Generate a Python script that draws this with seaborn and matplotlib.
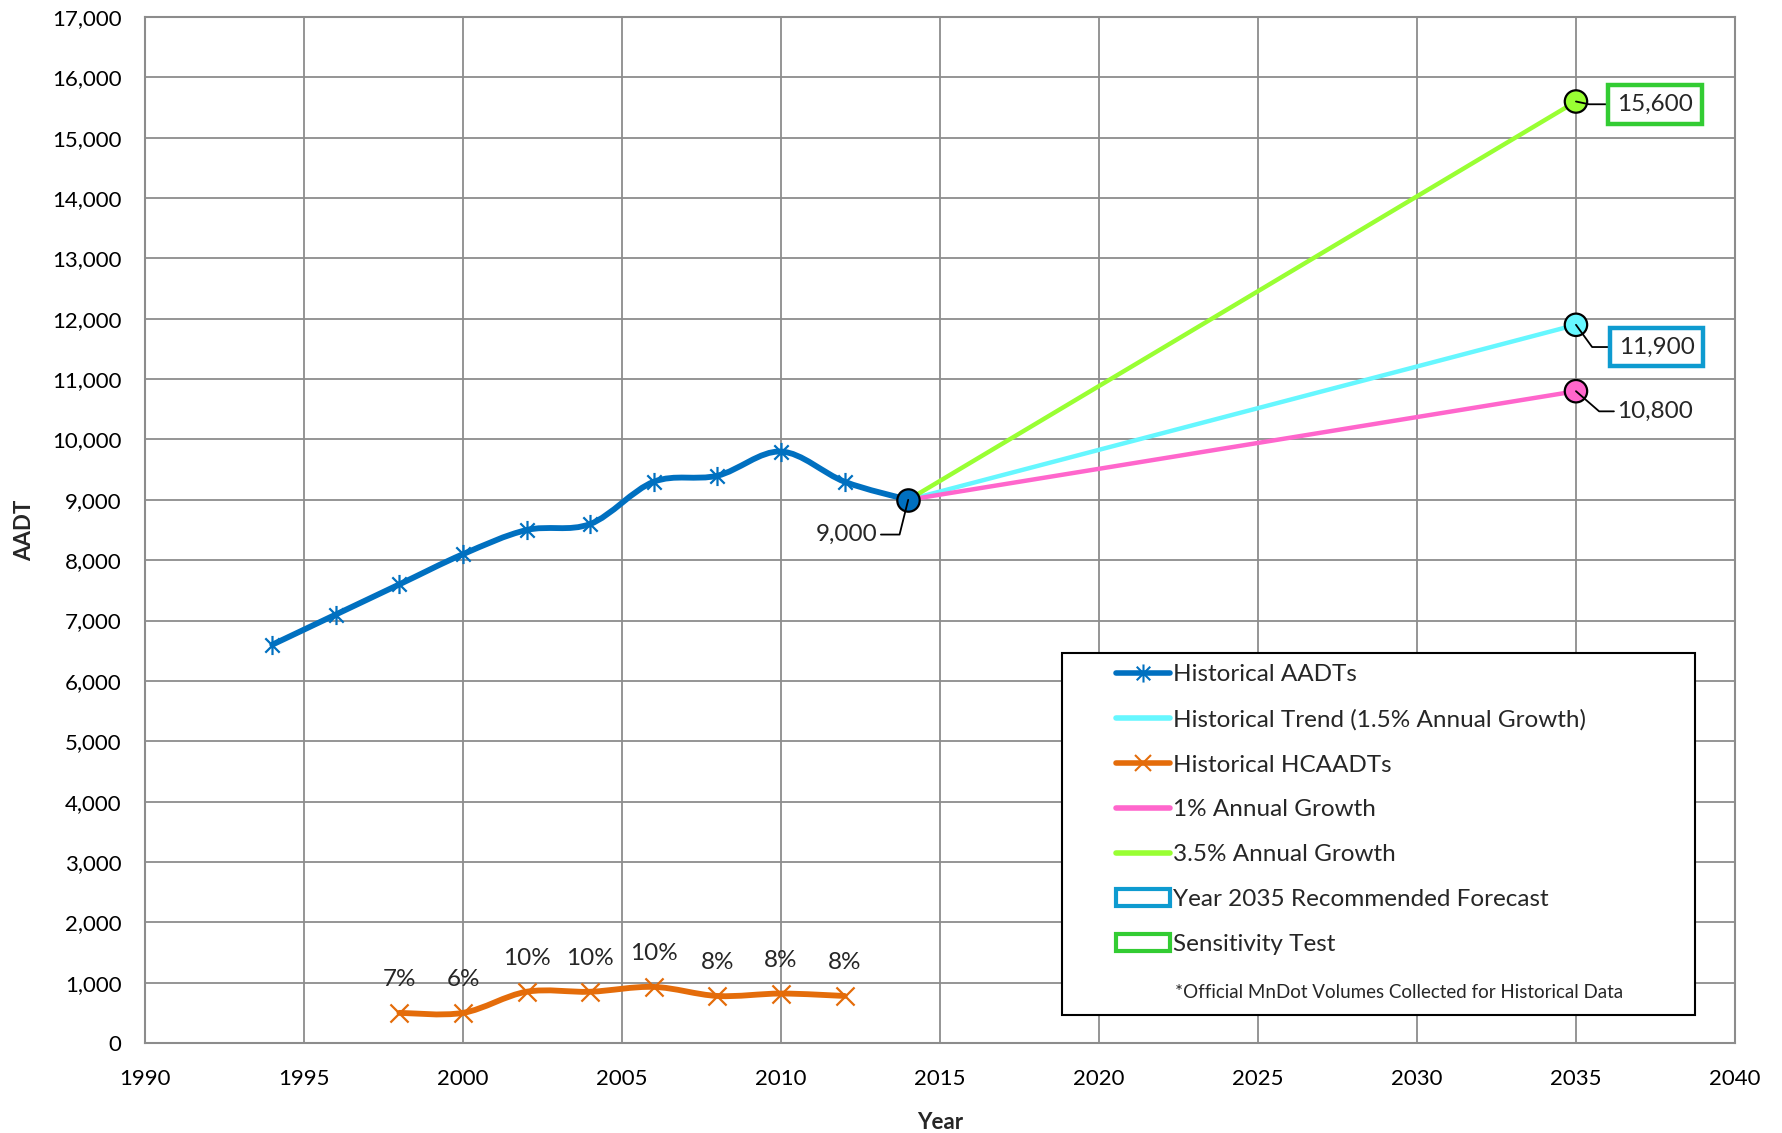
import numpy as np
import pandas as pd
import matplotlib
matplotlib.use("Agg")
import matplotlib.pyplot as plt
import seaborn as sns
from matplotlib.path import Path
from matplotlib.patches import PathPatch, Rectangle, Patch
from matplotlib.lines import Line2D
from matplotlib.ticker import FuncFormatter, MultipleLocator

# ---- data -------------------------------------------------------------
hist_years = [1994, 1996, 1998, 2000, 2002, 2004, 2006, 2008, 2010, 2012, 2014]
hist_aadt = [6600, 7100, 7600, 8100, 8500, 8600, 9300, 9400, 9800, 9300, 9000]

hc_years = [1998, 2000, 2002, 2004, 2006, 2008, 2010, 2012]
hc_aadt = [500, 500, 850, 850, 930, 780, 820, 780]

base_year = 2014
base_aadt = 9000
forecast_year = 2035
forecast_names = ["Historical Trend (1.5% Annual Growth)", "1% Annual Growth", "3.5% Annual Growth"]
forecast_2035 = [11900, 10800, 15600]

# ---- styling ----------------------------------------------------------
BLUE = "#0070C0"
CYAN = "#66F7FF"
ORANGE = "#E46C0A"
PINK = "#FF66CC"
LIME = "#99FF33"
BOX_BLUE = "#0E9BD0"
BOX_GREEN = "#33CC33"
GRID = "#8C8C8C"
palette = dict(zip(forecast_names, [CYAN, PINK, LIME]))

sns.set_theme(style="white")
plt.rcParams["font.family"] = ["Lato", "DejaVu Sans"]
FS = 17.5
TICK_FS = 16

fig, ax = plt.subplots(figsize=(17.82, 11.33), dpi=100)
fig.subplots_adjust(left=0.0814, right=0.9736, top=0.985, bottom=0.0794)

# asterisk marker: vertical bar crossed by an X
star = Path([(0, -1), (0, 1), (-0.75, -0.75), (0.75, 0.75), (-0.75, 0.75), (0.75, -0.75)],
            [Path.MOVETO, Path.LINETO, Path.MOVETO, Path.LINETO, Path.MOVETO, Path.LINETO])


def smooth_path(xs, ys):
    """Cubic Bezier path through the points (Catmull-Rom style smoothing)."""
    pts = np.column_stack([xs, ys]).astype(float)
    n = len(pts)
    verts = [pts[0]]
    codes = [Path.MOVETO]
    for i in range(n - 1):
        p0 = pts[i - 1] if i > 0 else pts[i]
        p1, p2 = pts[i], pts[i + 1]
        p3 = pts[i + 2] if i + 2 < n else pts[i + 1]
        verts += [p1 + (p2 - p0) / 6, p2 - (p3 - p1) / 6, p2]
        codes += [Path.CURVE4] * 3
    return Path(verts, codes)


# ---- forecast lines ---------------------------------------------------
fc = pd.DataFrame({
    "Year": [base_year] * len(forecast_names) + [forecast_year] * len(forecast_names),
    "AADT": [base_aadt] * len(forecast_names) + forecast_2035,
    "Scenario": forecast_names * 2,
})
sns.lineplot(data=fc, x="Year", y="AADT", hue="Scenario", palette=palette,
             linewidth=3.2, legend=False, ax=ax, zorder=3)

# ---- historical series (smoothed) -------------------------------------
ax.add_patch(PathPatch(smooth_path(hist_years, hist_aadt), fill=False,
                       edgecolor=BLUE, lw=4.2, capstyle="round", zorder=4))
ax.add_patch(PathPatch(smooth_path(hc_years, hc_aadt), fill=False,
                       edgecolor=ORANGE, lw=4.2, capstyle="round", zorder=4))

sns.scatterplot(x=hist_years[:-1], y=hist_aadt[:-1], marker=star, s=190,
                color=BLUE, edgecolor=BLUE, linewidth=1.6, ax=ax, zorder=5)
sns.scatterplot(x=hc_years, y=hc_aadt, marker="x", s=170,
                color=ORANGE, edgecolor=ORANGE, linewidth=1.6, ax=ax, zorder=5)

# end points
sns.scatterplot(x=[base_year], y=[base_aadt], s=260, color=BLUE,
                edgecolor="black", linewidth=1.6, ax=ax, zorder=6)
end = pd.DataFrame({"Year": [forecast_year] * len(forecast_names),
                    "AADT": forecast_2035, "Scenario": forecast_names})
sns.scatterplot(data=end, x="Year", y="AADT", hue="Scenario", palette=palette,
                s=260, edgecolor="black", linewidth=1.6, legend=False, ax=ax, zorder=6)

# ---- labels -----------------------------------------------------------
for yr, hc, tot in zip(hc_years, hc_aadt, hist_aadt[hist_years.index(hc_years[0]):]):
    ax.annotate(f"{round(hc / tot * 100)}%", xy=(yr, hc), xytext=(0, 24),
                textcoords="offset points", ha="center", va="center", fontsize=FS, zorder=7)

leader = dict(arrowstyle="-", color="black", lw=1.3, shrinkA=0, shrinkB=0)

ax.annotate(f"{base_aadt:,}", xy=(base_year, base_aadt), xytext=(-22, -25),
            textcoords="offset points", ha="right", va="center", fontsize=FS,
            arrowprops=dict(leader, connectionstyle="angle,angleA=0,angleB=76,rad=0"),
            zorder=8)

label_offsets = {forecast_names[0]: (58, -16), forecast_names[1]: (57, -14.5),
                 forecast_names[2]: (57, -2)}
label_angles = {forecast_names[0]: -54, forecast_names[1]: -41, forecast_names[2]: -12}
label_boxes = {forecast_names[0]: BOX_BLUE, forecast_names[1]: None, forecast_names[2]: BOX_GREEN}
for name, val in zip(forecast_names, forecast_2035):
    box = label_boxes[name]
    bbox = dict(boxstyle="square,pad=0.36", fc="white", ec=box, lw=3.2) if box else None
    ax.annotate(f"{val:,}", xy=(forecast_year, val), xytext=label_offsets[name],
                textcoords="offset points", ha="center", va="center", fontsize=FS,
                bbox=bbox,
                arrowprops=dict(leader, connectionstyle=f"angle,angleA=0,angleB={label_angles[name]},rad=0"),
                zorder=8)

# ---- axes -------------------------------------------------------------
ax.set_xlim(1990, 2040)
ax.set_ylim(0, 17000)
ax.xaxis.set_major_locator(MultipleLocator(5))
ax.yaxis.set_major_locator(MultipleLocator(1000))
ax.yaxis.set_major_formatter(FuncFormatter(lambda v, _: f"{int(v):,}"))
ax.tick_params(length=0, labelsize=TICK_FS, colors="black")
ax.tick_params(axis="y", pad=17)
ax.tick_params(axis="x", pad=19)
ax.grid(True, color=GRID, lw=1.3)
for sp in ax.spines.values():
    sp.set_color(GRID)
    sp.set_linewidth(1.5)
ax.set_xlabel("Year", fontsize=TICK_FS, fontweight="bold", labelpad=16)
ax.set_ylabel("AADT", fontsize=TICK_FS, fontweight="bold", labelpad=12)

# ---- legend -----------------------------------------------------------
handles = [
    Line2D([], [], color=BLUE, lw=4, marker=star, markersize=13,
           markeredgecolor=BLUE, markeredgewidth=1.5),
    Line2D([], [], color=CYAN, lw=4),
    Line2D([], [], color=ORANGE, lw=4, marker="x", markersize=12,
           markeredgecolor=ORANGE, markeredgewidth=1.5),
    Line2D([], [], color=PINK, lw=4),
    Line2D([], [], color=LIME, lw=4),
    Patch(facecolor="white", edgecolor=BOX_BLUE, lw=3),
    Patch(facecolor="white", edgecolor=BOX_GREEN, lw=3),
]
labels = ["Historical AADTs", forecast_names[0], "Historical HCAADTs",
          forecast_names[1], forecast_names[2],
          "Year 2035 Recommended Forecast", "Sensitivity Test"]
leg = ax.legend(handles, labels, loc="upper left", bbox_to_anchor=(0.611, 0.369),
                frameon=False, fontsize=FS, handlelength=2.2, handleheight=0.7,
                handletextpad=0.12, labelspacing=0.98, borderpad=0, borderaxespad=0)
leg.set_zorder(10)
ax.add_patch(Rectangle((0.577, 0.027), 0.398, 0.353, transform=ax.transAxes,
                       facecolor="white", edgecolor="black", lw=1.5, zorder=9))
ax.text(0.648, 0.0497, "*Official MnDot Volumes Collected for Historical Data",
        transform=ax.transAxes, ha="left", va="center", fontsize=13.5, zorder=11)

fig.savefig("out.png", dpi=100)
